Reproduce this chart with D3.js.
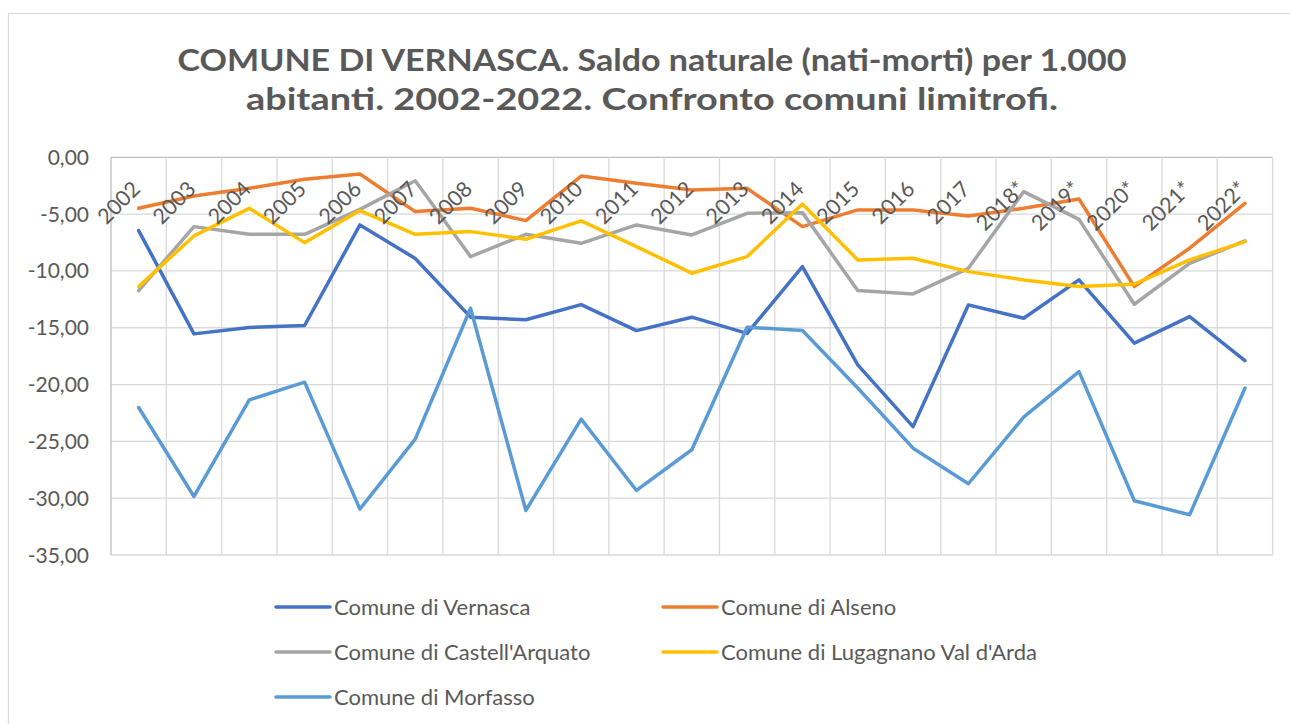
<!DOCTYPE html>
<html>
<head>
<meta charset="utf-8">
<script src="https://cdn.jsdelivr.net/npm/d3@7"></script>
<style>
  body { margin: 0; background: #fff; }
  text { font-family: Lato, "Open Sans", sans-serif; fill: #595959; }
</style>
</head>
<body>
<div id="chart"></div>
<script>
// chart values
var years = ["2002", "2003", "2004", "2005", "2006", "2007", "2008", "2009", "2010", "2011",
  "2012", "2013", "2014", "2015", "2016", "2017", "2018*", "2019*", "2020*", "2021*", "2022*"];

var vernasca = [-6.45, -15.54, -14.98, -14.8, -5.95, -8.9, -14.07, -14.3, -12.96, -15.25,
  -14.07, -15.5, -9.62, -18.27, -23.7, -12.99, -14.16, -10.79, -16.36, -14.02, -17.89];
var alseno = [-4.49, -3.41, -2.73, -1.94, -1.47, -4.78, -4.49, -5.57, -1.65, -2.29,
  -2.88, -2.73, -6.1, -4.63, -4.63, -5.16, -4.49, -3.67, -11.38, -8.0, -4.05];
var castell = [-11.73, -6.1, -6.78, -6.78, -4.58, -2.06, -8.74, -6.78, -7.57, -5.95,
  -6.83, -4.93, -4.87, -11.73, -12.02, -9.77, -3.02, -5.46, -12.93, -9.33, -7.36];
var lugagnano = [-11.38, -6.92, -4.49, -7.51, -4.69, -6.78, -6.54, -7.21, -5.6, -7.86,
  -10.2, -8.74, -4.11, -9.03, -8.88, -10.06, -10.79, -11.38, -11.17, -9.03, -7.42];
var morfasso = [-22.02, -29.85, -21.35, -19.79, -30.96, -24.8, -13.28, -31.08, -23.04, -29.32,
  -25.74, -14.95, -15.25, -20.3, -25.6, -28.73, -22.87, -18.86, -30.23, -31.46, -20.32];

var seriesNames = ["Comune di Vernasca", "Comune di Alseno", "Comune di Castell'Arquato",
  "Comune di Lugagnano Val d'Arda", "Comune di Morfasso"];
var seriesColors = ["#4472C4", "#ED7D31", "#A5A5A5", "#FFC000", "#5B9BD5"];
var yTicks = [0, -5, -10, -15, -20, -25, -30, -35];

var titleLines = ["COMUNE DI VERNASCA. Saldo naturale (nati-morti) per 1.000",
  "abitanti. 2002-2022. Confronto comuni limitrofi."];

var svgWidth = 1290;
var svgHeight = 724;

var plot = { left: 111, right: 1272.6, top: 157.3, bottom: 555 };

var svg = d3.select("#chart").append("svg")
  .attr("width", svgWidth)
  .attr("height", svgHeight);

// chart area border
svg.append("rect")
  .attr("x", 8.5).attr("y", 13.5)
  .attr("width", 1310).attr("height", 740)
  .attr("fill", "#fff")
  .attr("stroke", "#D9D9D9")
  .attr("stroke-width", 1.3);

// title
var titleY = [71, 110];
var titleW = [949, 812];
titleLines.forEach(function(t, i) {
  svg.append("text")
    .attr("x", 652)
    .attr("y", titleY[i])
    .attr("text-anchor", "middle")
    .attr("textLength", titleW[i])
    .attr("lengthAdjust", "spacingAndGlyphs")
    .style("font-size", "31px")
    .style("font-weight", "bold")
    .text(t);
});

var xScale = d3.scaleBand()
  .domain(years)
  .range([plot.left, plot.right])
  .paddingInner(0)
  .paddingOuter(0);

var yScale = d3.scaleLinear()
  .domain([-35, 0])
  .range([plot.bottom, plot.top]);

var grid = svg.append("g");

// horizontal gridlines
grid.selectAll("line.h")
  .data(yTicks)
  .enter()
  .append("line")
  .attr("class", "h")
  .attr("x1", plot.left).attr("x2", plot.right)
  .attr("y1", d => yScale(d)).attr("y2", d => yScale(d))
  .attr("stroke", d => d === 0 ? "#BFBFBF" : "#D9D9D9")
  .attr("stroke-width", 1.3);

// vertical gridlines at category boundaries
var bounds = years.map(d => xScale(d)).concat([plot.right]);
grid.selectAll("line.v")
  .data(bounds)
  .enter()
  .append("line")
  .attr("class", "v")
  .attr("x1", d => d).attr("x2", d => d)
  .attr("y1", plot.top).attr("y2", plot.bottom)
  .attr("stroke", (d, i) => i === 0 ? "#BFBFBF" : "#D9D9D9")
  .attr("stroke-width", 1.3);

// y tick labels
svg.append("g").selectAll("text")
  .data(yTicks)
  .enter()
  .append("text")
  .attr("x", 89)
  .attr("y", d => yScale(d))
  .attr("dy", "0.36em")
  .attr("text-anchor", "end")
  .style("font-size", "21px")
  .text(d => d3.format(".2f")(d).replace(".", ",").replace("−", "-"));

// lines
var allSeries = [vernasca, alseno, castell, lugagnano, morfasso];
var line = d3.line()
  .x((d, i) => xScale(years[i]) + xScale.bandwidth() / 2)
  .y(d => yScale(d));

svg.append("g").selectAll("path")
  .data(allSeries)
  .enter()
  .append("path")
  .attr("d", d => line(d))
  .attr("fill", "none")
  .attr("stroke", (d, i) => seriesColors[i])
  .attr("stroke-width", 3.5)
  .attr("stroke-linejoin", "round")
  .attr("stroke-linecap", "round");

// category labels, rotated, next to the 0 axis
svg.append("g").selectAll("text")
  .data(years)
  .enter()
  .append("text")
  .attr("text-anchor", "end")
  .attr("transform", d => "translate(" + (xScale(d) + xScale.bandwidth() / 2 + 3) + "," + (yScale(0) + 33) + ") rotate(-45)")
  .style("font-size", "21.5px")
  .text(d => d);

// legend
var legendPos = [[276, 607], [663, 607], [276, 652], [663, 652], [276, 697]];
var legend = svg.append("g").selectAll("g")
  .data(seriesNames)
  .enter()
  .append("g")
  .attr("transform", (d, i) => "translate(" + legendPos[i][0] + "," + legendPos[i][1] + ")");

legend.append("line")
  .attr("x1", 0).attr("x2", 54)
  .attr("y1", 0).attr("y2", 0)
  .attr("stroke", (d, i) => seriesColors[i])
  .attr("stroke-width", 3.5)
  .attr("stroke-linecap", "round");

legend.append("text")
  .attr("x", 58)
  .attr("y", 0)
  .attr("dy", "0.35em")
  .style("font-size", "22px")
  .text(d => d);
</script>
</body>
</html>
